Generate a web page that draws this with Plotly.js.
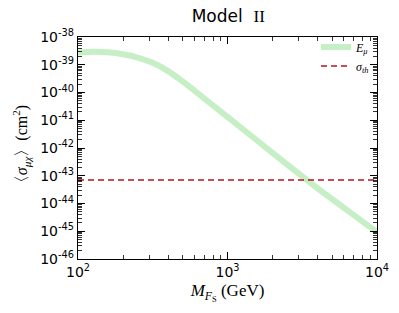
<!DOCTYPE html>
<html><head><meta charset="utf-8">
<script src="https://cdn.plot.ly/plotly-3.0.1.min.js"></script>
<style>html,body{margin:0;padding:0;background:#fff;}#c{width:399px;height:313px;}</style>
</head><body><div id="c"></div>
<script>
// Data
const massGeV = [100, 126, 158, 200, 251, 316, 398, 501, 631, 794, 1000, 1585, 2512, 3162, 3981, 6310, 10000];
const sigmaEmu = [2.75e-39, 2.95e-39, 2.82e-39, 2.4e-39, 1.82e-39, 1.17e-39, 6.0e-40, 2.5e-40, 9.5e-41, 3.55e-41, 1.32e-41, 1.82e-42, 2.5e-43, 9.5e-44, 3.6e-44, 5.75e-45, 9.3e-46];
const sigmaTh = 7e-44;
const thMass = [100, 10000];
const yTickVals = [1e-46,1e-45,1e-44,1e-43,1e-42,1e-41,1e-40,1e-39,1e-38];
const yTickText = ["10<sup>-46</sup>","10<sup>-45</sup>","10<sup>-44</sup>","10<sup>-43</sup>","10<sup>-42</sup>","10<sup>-41</sup>","10<sup>-40</sup>","10<sup>-39</sup>","10<sup>-38</sup>"];
const xTickVals = [100, 1000, 10000];
const xTickText = ["10<sup>2</sup>","10<sup>3</sup>","10<sup>4</sup>"];

function minorLog(lo, hi) {
  const out = [];
  for (let e = lo; e < hi; e++) for (let m = 2; m <= 9; m++) out.push(m * Math.pow(10, e));
  return out;
}
const traces = [
  {x: massGeV, y: sigmaEmu, mode: 'lines', name: '<i>E<sub>μ</sub></i>',
   line: {color: '#c6efc6', width: 6, shape: 'spline', smoothing: 0.5}},
  {x: thMass, y: [sigmaTh, sigmaTh], mode: 'lines', name: '<i>σ<sub>th</sub></i>',
   line: {color: '#b8141c', width: 1.4, dash: '6px,4px'}}
];
function axisCommon(minorVals) {
  return {
    showgrid: false, zeroline: false, showline: true, linecolor: '#000', linewidth: 1.2,
    mirror: 'ticks', ticks: 'inside', ticklen: 7, tickwidth: 1, tickcolor: '#000',
    tickfont: {family: 'DejaVu Sans', size: 14, color: '#000'},
    minor: {tickmode: 'array', tickvals: minorVals, ticks: 'inside', ticklen: 4, tickwidth: 0.8, tickcolor: '#000', showgrid: false}
  };
}
const layout = {
  width: 399, height: 313,
  margin: {l: 78, r: 22, t: 37, b: 54},
  paper_bgcolor: '#fff', plot_bgcolor: '#fff',
  showlegend: true,
  title: {text: 'Model  <span style="font-family:Liberation Serif">II</span>', font: {family: 'DejaVu Sans', size: 17, color: '#000'}, x: 0.572, xanchor: 'center', y: 0.95, yanchor: 'middle'},
  xaxis: Object.assign(axisCommon(minorLog(2, 4)), {type: 'log', range: [2, 4], tickvals: xTickVals, ticktext: xTickText,
    title: {text: '<i>M</i><sub><i>F</i><sub>S</sub></sub> (GeV)', font: {family: 'Liberation Serif', size: 17, color: '#000'}, standoff: 5}}),
  yaxis: Object.assign(axisCommon(minorLog(-46, -38)), {type: 'log', range: [-46, -38], tickvals: yTickVals, ticktext: yTickText,
    title: {text: '〈<i>σ</i><sub><i>μχ</i></sub>〉(cm<sup>2</sup>)', font: {family: 'Liberation Serif', size: 16, color: '#000'}, standoff: 8}}),
  legend: {x: 0.99, xanchor: 'right', y: 1.02, yanchor: 'top', bgcolor: 'rgba(0,0,0,0)', borderwidth: 0,
    font: {family: 'Liberation Serif', size: 12, color: '#000'}, itemwidth: 30, tracegroupgap: 0}
};
Plotly.newPlot('c', traces, layout, {displayModeBar: false, staticPlot: true});
</script></body></html>
